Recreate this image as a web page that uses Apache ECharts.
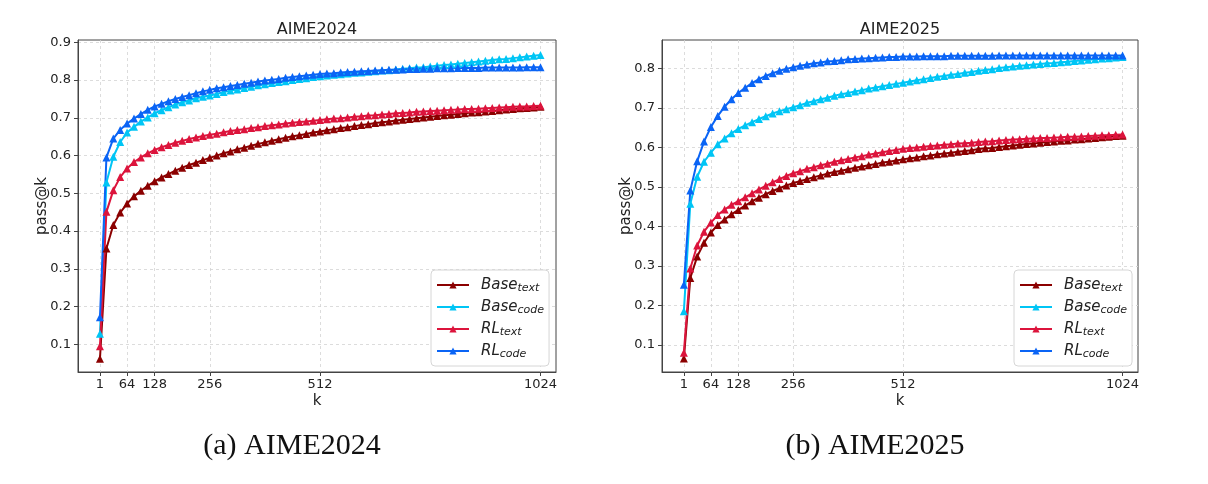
<!DOCTYPE html>
<html>
<head>
<meta charset="utf-8">
<script src="https://cdn.jsdelivr.net/npm/echarts@6/dist/echarts.min.js"></script>
<style>
html,body{margin:0;padding:0;background:#fff;}
#c{width:1208px;height:484px;}
</style>
</head>
<body>
<div id="c"></div>
<script>
// k values (sample budget)
const K = [1,
  16,32,48,64,80,96,112,128,144,160,176,192,208,224,240,256,
  272,288,304,320,336,352,368,384,400,416,432,448,464,480,496,512,
  528,544,560,576,592,608,624,640,656,672,688,704,720,736,752,768,
  784,800,816,832,848,864,880,896,912,928,944,960,976,992,1008,1024];

const X_TICKS = [1, 64, 128, 256, 512, 1024];
const Y_TICKS_2024 = [0.1,0.2,0.3,0.4,0.5,0.6,0.7,0.8,0.9];
const Y_TICKS_2025 = [0.1,0.2,0.3,0.4,0.5,0.6,0.7,0.8];

// AIME2024
const A24_BASE_TEXT = [0.062,
  0.354,0.416,0.449,0.473,0.492,0.507,0.520,0.532,0.542,0.551,0.560,0.568,0.575,0.581,0.588,0.594,
  0.600,0.606,0.611,0.617,0.621,0.626,0.631,0.635,0.639,0.643,0.647,0.651,0.654,0.657,0.661,0.664,
  0.667,0.670,0.673,0.675,0.678,0.681,0.683,0.686,0.688,0.690,0.693,0.695,0.697,0.699,0.701,0.703,
  0.705,0.707,0.708,0.710,0.712,0.714,0.715,0.717,0.718,0.720,0.722,0.723,0.725,0.726,0.727,0.729];
const A24_BASE_CODE = [0.128,
  0.529,0.597,0.636,0.661,0.676,0.690,0.701,0.712,0.720,0.728,0.735,0.741,0.746,0.752,0.756,0.759,
  0.763,0.768,0.772,0.775,0.779,0.782,0.786,0.789,0.792,0.795,0.797,0.800,0.803,0.805,0.808,0.810,
  0.812,0.814,0.815,0.817,0.819,0.820,0.822,0.823,0.825,0.826,0.828,0.830,0.831,0.833,0.834,0.836,
  0.838,0.840,0.841,0.843,0.845,0.847,0.849,0.851,0.853,0.855,0.856,0.858,0.860,0.862,0.864,0.866];
const A24_RL_TEXT = [0.095,
  0.451,0.508,0.543,0.566,0.583,0.595,0.606,0.615,0.622,0.628,0.634,0.639,0.644,0.648,0.652,0.655,
  0.658,0.662,0.665,0.668,0.670,0.673,0.675,0.678,0.680,0.682,0.685,0.687,0.689,0.690,0.692,0.694,
  0.696,0.698,0.699,0.701,0.703,0.704,0.706,0.707,0.709,0.710,0.712,0.713,0.714,0.716,0.717,0.718,
  0.719,0.720,0.721,0.722,0.723,0.723,0.724,0.725,0.726,0.727,0.728,0.729,0.730,0.730,0.731,0.732];
const A24_RL_CODE = [0.172,
  0.595,0.645,0.668,0.685,0.698,0.710,0.721,0.730,0.737,0.744,0.750,0.755,0.760,0.765,0.770,0.774,
  0.778,0.781,0.784,0.787,0.790,0.793,0.796,0.799,0.801,0.803,0.806,0.808,0.810,0.812,0.814,0.816,
  0.817,0.818,0.820,0.821,0.822,0.823,0.824,0.825,0.826,0.827,0.827,0.828,0.829,0.829,0.830,0.830,
  0.831,0.831,0.831,0.832,0.832,0.832,0.832,0.833,0.833,0.833,0.833,0.833,0.833,0.834,0.834,0.834];

// AIME2025
const A25_BASE_TEXT = [0.066,
  0.270,0.324,0.359,0.385,0.404,0.418,0.431,0.442,0.453,0.464,0.473,0.482,0.490,0.497,0.504,0.510,
  0.515,0.520,0.525,0.529,0.534,0.538,0.541,0.545,0.549,0.552,0.555,0.558,0.562,0.564,0.567,0.570,
  0.573,0.575,0.578,0.580,0.583,0.585,0.587,0.589,0.591,0.593,0.596,0.598,0.599,0.601,0.603,0.605,
  0.607,0.609,0.610,0.612,0.614,0.615,0.617,0.618,0.620,0.621,0.623,0.624,0.626,0.627,0.629,0.630];
const A25_BASE_CODE = [0.186,
  0.458,0.526,0.564,0.587,0.608,0.623,0.636,0.647,0.656,0.664,0.672,0.679,0.686,0.692,0.697,0.702,
  0.707,0.713,0.717,0.722,0.726,0.731,0.735,0.738,0.742,0.745,0.749,0.752,0.755,0.758,0.761,0.764,
  0.767,0.770,0.773,0.776,0.779,0.781,0.784,0.786,0.789,0.791,0.794,0.796,0.798,0.801,0.803,0.805,
  0.807,0.808,0.810,0.811,0.813,0.814,0.816,0.817,0.819,0.820,0.822,0.823,0.825,0.826,0.828,0.829];
const A25_RL_TEXT = [0.081,
  0.294,0.352,0.387,0.410,0.429,0.443,0.455,0.464,0.474,0.484,0.494,0.503,0.512,0.520,0.528,0.535,
  0.540,0.546,0.550,0.555,0.559,0.564,0.568,0.571,0.575,0.578,0.582,0.585,0.588,0.591,0.594,0.597,
  0.599,0.600,0.602,0.604,0.605,0.607,0.608,0.610,0.611,0.612,0.614,0.615,0.616,0.618,0.619,0.620,
  0.621,0.622,0.623,0.624,0.624,0.625,0.626,0.627,0.627,0.628,0.629,0.630,0.631,0.631,0.632,0.633];
const A25_RL_CODE = [0.253,
  0.491,0.565,0.615,0.652,0.680,0.703,0.722,0.738,0.751,0.763,0.773,0.781,0.788,0.794,0.799,0.803,
  0.807,0.810,0.813,0.815,0.818,0.819,0.821,0.823,0.824,0.825,0.826,0.827,0.828,0.829,0.829,0.830,
  0.830,0.830,0.831,0.831,0.831,0.831,0.832,0.832,0.832,0.832,0.832,0.832,0.832,0.833,0.833,0.833,
  0.833,0.833,0.833,0.833,0.833,0.833,0.833,0.833,0.833,0.833,0.833,0.833,0.833,0.833,0.833,0.833];

const NAMES = ['Base_text','Base_code','RL_text','RL_code'];
const MAIN = {Base_text:'Base', Base_code:'Base', RL_text:'RL', RL_code:'RL'};
const SUB = {Base_text:'text', Base_code:'code', RL_text:'text', RL_code:'code'};
const COLORS = {Base_text:'#8b0000', Base_code:'#00c5f5', RL_text:'#dc143c', RL_code:'#0a64f5'};

const FONT = 'DejaVu Sans';
const chart = echarts.init(document.getElementById('c'), null, {renderer:'canvas'});

function pairs(arr){ return K.map((k,i)=>[k, arr[i]]); }

function xAxis(gi){
  return {
    type:'value', gridIndex:gi, min:-50, max:1060,
    name:'k', nameLocation:'middle', nameGap:22, nameMoveOverlap:false,
    nameTextStyle:{fontSize:15, color:'#222', fontFamily:FONT},
    axisLine:{show:true, onZero:false, lineStyle:{color:'#444', width:1}},
    axisTick:{show:true, customValues:X_TICKS, length:4, lineStyle:{color:'#444'}},
    axisLabel:{customValues:X_TICKS, fontSize:13, color:'#222', margin:6, fontFamily:FONT,
      formatter:v=>String(v)},
    splitLine:{show:true, lineStyle:{color:'#d4d4d4', type:[3,3], width:0.8}}
  };
}
function yAxis(gi, min, max, ticks){
  return {
    type:'value', gridIndex:gi, min:min, max:max,
    name:'pass@k', nameLocation:'middle', nameGap:28, nameRotate:90, nameMoveOverlap:false,
    nameTextStyle:{fontSize:15, color:'#222', fontFamily:FONT},
    axisLine:{show:true, onZero:false, lineStyle:{color:'#444', width:1}},
    axisTick:{show:true, customValues:ticks, length:4, lineStyle:{color:'#444'}},
    axisLabel:{customValues:ticks, fontSize:13, color:'#222', margin:7, fontFamily:FONT,
      formatter:v=>v.toFixed(1)},
    splitLine:{show:true, lineStyle:{color:'#d4d4d4', type:[3,3], width:0.8}}
  };
}
function legend(left, top){
  return {
    orient:'vertical', left:left, top:top, data:NAMES,
    itemWidth:32, itemHeight:9, itemGap:4,
    padding:[6,5,6,5],
    borderColor:'#d6d6d6', borderWidth:1, borderRadius:4, backgroundColor:'#fff',
    formatter:n=>'{a|'+MAIN[n]+'}{s|'+SUB[n]+'}',
    textStyle:{rich:{
      a:{fontSize:15, fontStyle:'italic', fontFamily:FONT, color:'#222', padding:[0,0,0,7], lineHeight:18},
      s:{fontSize:11, fontStyle:'italic', fontFamily:FONT, color:'#222', padding:[7,0,0,0], lineHeight:18}
    }}
  };
}
const DATA = [
  {Base_text:A24_BASE_TEXT, Base_code:A24_BASE_CODE, RL_text:A24_RL_TEXT, RL_code:A24_RL_CODE},
  {Base_text:A25_BASE_TEXT, Base_code:A25_BASE_CODE, RL_text:A25_RL_TEXT, RL_code:A25_RL_CODE}
];
const series = [];
DATA.forEach((d,gi)=>{
  NAMES.forEach(n=>{
    series.push({
      type:'line', name:n, xAxisIndex:gi, yAxisIndex:gi,
      data:pairs(d[n]), symbol:'triangle', symbolSize:8, showSymbol:true,
      lineStyle:{width:2, color:COLORS[n]}, itemStyle:{color:COLORS[n]},
      emphasis:{disabled:true}, animation:false, clip:true
    });
  });
});

chart.setOption({
  animation:false,
  grid:[
    {left:78, top:40, width:478, height:332, show:true, borderColor:'#444', borderWidth:1, backgroundColor:'transparent'},
    {left:662, top:40, width:476, height:332, show:true, borderColor:'#444', borderWidth:1, backgroundColor:'transparent'}
  ],
  xAxis:[xAxis(0), xAxis(1)],
  yAxis:[yAxis(0, 0.027, 0.906, Y_TICKS_2024), yAxis(1, 0.032, 0.872, Y_TICKS_2025)],
  legend:[legend(431, 270), legend(1014, 270)],
  series:series,
  graphic:[
    {type:'text', x:317, y:30, style:{text:'AIME2024', textAlign:'center', textVerticalAlign:'middle', font:'16px "DejaVu Sans"', fill:'#222'}},
    {type:'text', x:900, y:30, style:{text:'AIME2025', textAlign:'center', textVerticalAlign:'middle', font:'16px "DejaVu Sans"', fill:'#222'}},
    {type:'text', x:292, y:446, style:{text:'(a) AIME2024', textAlign:'center', textVerticalAlign:'middle', font:'30px "Liberation Serif"', fill:'#111'}},
    {type:'text', x:875, y:446, style:{text:'(b) AIME2025', textAlign:'center', textVerticalAlign:'middle', font:'30px "Liberation Serif"', fill:'#111'}}
  ]
});
</script>
</body>
</html>
